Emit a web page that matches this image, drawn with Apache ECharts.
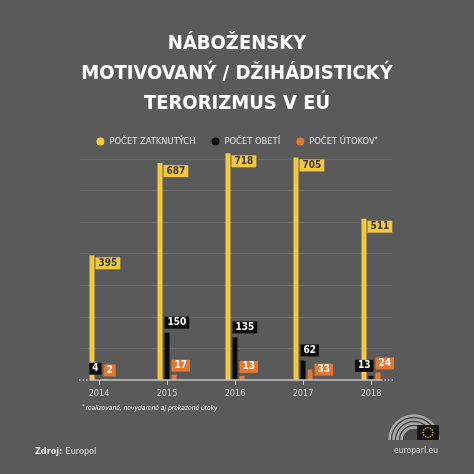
<!DOCTYPE html>
<html><head><meta charset="utf-8">
<script src="https://cdn.jsdelivr.net/npm/echarts@6/dist/echarts.min.js"></script>
<style>html,body{margin:0;padding:0;background:#5a5a5a}#c{width:474px;height:474px}</style>
</head><body><div id="c"></div>
<script>
const years = ['2014', '2015', '2016', '2017', '2018'];
const arrests = [395, 687, 718, 705, 511];
const deaths = [4, 150, 135, 62, 13];
const attacks = [2, 17, 13, 33, 24];
const yMax = 700;
const yStep = 100;
const titleLines = ['NÁBOŽENSKY', 'MOTIVOVANÝ / DŽIHÁDISTICKÝ', 'TERORIZMUS V EÚ'];
const seriesNames = ['POČET ZATKNUTÝCH', 'POČET OBETÍ', 'POČET ÚTOKOV'];
const footnote = 'realizované, nevydarené aj prekazené útoky';

const FONT = '"Liberation Sans Narrow", "DejaVu Sans Condensed", sans-serif';
const YEL = '#f5c83c', BLK = '#0b0b0b', ORG = '#e5772e';
const BW = 5, LH = 12;

const chart = echarts.init(document.getElementById('c'), null, {renderer: 'canvas'});

function baseOption() {
  return {
    backgroundColor: '#5a5a5a',
    animation: false,
    title: {
      text: titleLines.join('\n'), left: 'center', top: 24,
      textStyle: {color: '#ffffff', fontFamily: FONT, fontWeight: 'bold', fontSize: 20, lineHeight: 30}
    },
    legend: {
      top: 131, left: 'center', icon: 'circle', itemWidth: 8, itemHeight: 8, itemGap: 16,
      textStyle: {color: '#e4e4e4', fontFamily: FONT, fontSize: 9.3,
        rich: {s: {fontSize: 6.5, verticalAlign: 'top', color: '#e4e4e4', padding: [0, 0, 4, 0]}}},
      formatter: n => n === seriesNames[2] ? n + '{s|*}' : n,
      data: seriesNames
    },
    grid: [
      {left: 65, right: 69, top: 159, bottom: 94},
      {left: 80, right: 82, top: 159, bottom: 94}
    ],
    xAxis: [
      {type: 'category', gridIndex: 0, data: years, boundaryGap: true,
        axisLine: {show: false},
        axisTick: {show: true, alignWithLabel: true, length: 5, lineStyle: {color: '#c4c4c4', width: 1}},
        axisLabel: {color: '#cfcfcf', fontFamily: FONT, fontSize: 9, margin: 9}},
      {type: 'value', gridIndex: 1, min: 0, max: 1, show: false}
    ],
    yAxis: [
      {type: 'value', gridIndex: 0, min: 0, max: yMax, interval: yStep, show: false, splitLine: {show: false}},
      {type: 'value', gridIndex: 1, min: 0, max: yMax, interval: yStep,
        axisLine: {show: false}, axisTick: {show: false}, axisLabel: {show: false},
        splitLine: {show: true, showMinLine: false, lineStyle: {color: '#6c6c6c', width: 1}}}
    ],
    series: []
  };
}

function makeSeries(over) {
  const common = {type: 'bar', xAxisIndex: 0, yAxisIndex: 0, barWidth: BW, barGap: '40%', clip: false};
  const lbl = (bg, fg) => ({show: true, backgroundColor: bg, color: fg, fontFamily: FONT, fontWeight: 'bold',
    fontSize: 10, lineHeight: 10, padding: [1, 3]});
  return [
    Object.assign({}, common, {name: seriesNames[0], itemStyle: {color: YEL}, data: arrests.slice(),
      label: Object.assign(lbl(YEL, '#3a3a3a'), {position: 'top', align: 'left', verticalAlign: 'top', distance: 0, offset: [BW / 2 + 1, 2]})}),
    Object.assign({}, common, {name: seriesNames[1], itemStyle: {color: BLK},
      data: deaths.map((v, i) => over.blackLeft[i] ? {value: v, label: {align: 'right', offset: [BW / 2, 0]}} : v),
      label: Object.assign(lbl(BLK, '#ffffff'), {position: 'top', align: 'left', distance: 4, offset: [-BW / 2, 0]})}),
    Object.assign({}, common, {name: seriesNames[2], itemStyle: {color: ORG},
      data: attacks.map((v, i) => over.orangeRight[i] ? {value: v, label: {offset: [BW / 2 + 2, 3 + 6]}} : v),
      label: Object.assign(lbl(ORG, '#ffffff'), {position: 'top', align: 'left', distance: 3, offset: [-BW / 2, 0]})})
  ];
}

const opt = baseOption();
opt.series = makeSeries({blackLeft: [], orangeRight: []});
chart.setOption(opt);

// collision handling between black and orange labels, in pixel space
const y0 = chart.convertToPixel({yAxisIndex: 0}, 0);
const py = v => chart.convertToPixel({yAxisIndex: 0}, v);
const blackLeft = [], orangeRight = [];
years.forEach((y, i) => {
  const blackBottom = py(deaths[i]) - 4;
  const orangeTop = py(attacks[i]) - 3 - LH;
  if (blackBottom > orangeTop) {
    if (y0 - py(deaths[i]) > LH) orangeRight[i] = true; else blackLeft[i] = true;
  }
});

const xs = years.map((y, i) => chart.convertToPixel({xAxisIndex: 0}, i));
const xFirst = xs[0], xLast = xs[xs.length - 1];
const lineCol = '#c4c4c4';
const graphic = [
  {type: 'line', shape: {x1: xFirst - 9, y1: y0, x2: xLast + 10, y2: y0}, style: {stroke: lineCol, lineWidth: 1.5}, z: 10},
  {type: 'line', shape: {x1: xFirst - 20, y1: y0, x2: xFirst - 9, y2: y0}, style: {stroke: lineCol, lineWidth: 1.5, lineDash: [1.5, 2]}, z: 10},
  {type: 'line', shape: {x1: xLast + 10, y1: y0, x2: xLast + 22, y2: y0}, style: {stroke: lineCol, lineWidth: 1.5, lineDash: [1.5, 2]}, z: 10},
  {type: 'text', left: 82, top: 404, style: {
    text: '{s|*}{i|' + footnote + '}', fill: '#eeeeee',
    rich: {s: {fontSize: 5.5, fontFamily: FONT, fill: '#eeeeee', verticalAlign: 'top', padding: [0, 1, 3, 0]},
      i: {fontSize: 6.6, fontFamily: FONT, fontStyle: 'italic', fill: '#eeeeee'}}}},
  {type: 'text', left: 35, top: 446, style: {
    text: '{b|Zdroj:} {n|Europol}', rich: {b: {fontFamily: FONT, fontWeight: 'bold', fontSize: 9, fill: '#e2e2e2'},
      n: {fontFamily: FONT, fontSize: 9, fill: '#e2e2e2'}}}},
  {type: 'text', right: 36, top: 446, style: {text: 'europarl.eu', fontFamily: FONT, fontSize: 8.5, fill: '#d4d4d4'}}
];
// European Parliament logo (hemicycle + flag)
const logo = {type: 'group', left: 387, top: 413, children: []};
const cx = 26, cy = 27;
logo.children.push({type: 'sector', shape: {cx: cx, cy: cy, r: 26, r0: 0, startAngle: Math.PI, endAngle: 2 * Math.PI},
  style: {fill: '#4a4a4a'}});
[24.5, 20.5, 16.5, 12.5].forEach(r => {
  logo.children.push({type: 'arc', shape: {cx: cx, cy: cy, r: r, startAngle: Math.PI, endAngle: 2 * Math.PI},
    style: {stroke: '#a6a6a6', lineWidth: 2.6, fill: null}});
});
logo.children.push({type: 'rect', shape: {x: 29, y: 12, width: 22, height: 15}, style: {fill: '#151515'}});
for (let k = 0; k < 12; k++) {
  const a = k * Math.PI / 6;
  logo.children.push({type: 'circle', shape: {cx: 40 + 4.8 * Math.cos(a), cy: 19.5 + 4.8 * Math.sin(a), r: 0.75}, style: {fill: '#f1d24a'}});
}
graphic.push(logo);

chart.setOption({series: makeSeries({blackLeft, orangeRight}), graphic: graphic});
</script></body></html>
